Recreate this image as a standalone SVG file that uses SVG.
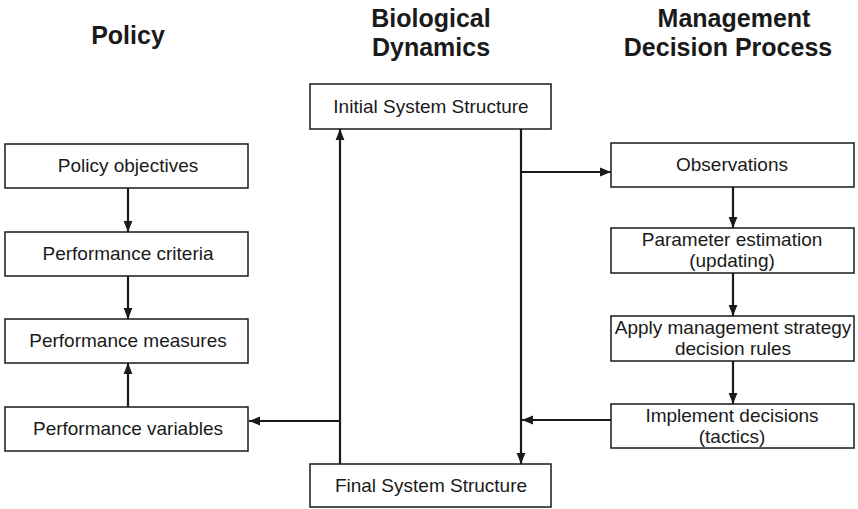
<svg xmlns="http://www.w3.org/2000/svg" width="858" height="509" viewBox="0 0 858 509">
<style>
.box{fill:#fff;stroke:#1a1a1a;stroke-width:1.5}
.t{font-family:"Liberation Sans",Arial,sans-serif;font-size:19px;fill:#1a1a1a;text-anchor:middle}
.h{font-family:"Liberation Sans",Arial,sans-serif;font-size:25px;font-weight:bold;fill:#1a1a1a;text-anchor:middle}
.c{fill:none;stroke:#1a1a1a;stroke-width:2.2}
</style>
<defs>
<marker id="ah" viewBox="0 0 10 10" refX="10" refY="5" markerWidth="11" markerHeight="11" markerUnits="userSpaceOnUse" orient="auto">
<path d="M0,1 L10,5 L0,9 z" fill="#1a1a1a"/>
</marker>
</defs>
<rect width="858" height="509" fill="#fff"/>
<g id="headers">
<text class="h" x="128" y="44">Policy</text>
<text class="h" x="431" y="27">Biological</text>
<text class="h" x="431" y="56">Dynamics</text>
<text class="h" x="734" y="27">Management</text>
<text class="h" x="728" y="56">Decision Process</text>
</g>
<g id="connectors">
<line class="c" x1="128" y1="188" x2="128" y2="232" marker-end="url(#ah)"/>
<line class="c" x1="128" y1="276" x2="128" y2="319" marker-end="url(#ah)"/>
<line class="c" x1="128" y1="407" x2="128" y2="363" marker-end="url(#ah)"/>
<line class="c" x1="340" y1="464" x2="340" y2="129" marker-end="url(#ah)"/>
<line class="c" x1="340" y1="421" x2="249" y2="421" marker-end="url(#ah)"/>
<line class="c" x1="521" y1="129" x2="521" y2="464" marker-end="url(#ah)"/>
<line class="c" x1="521" y1="172" x2="611" y2="172" marker-end="url(#ah)"/>
<line class="c" x1="611" y1="420" x2="522" y2="420" marker-end="url(#ah)"/>
<line class="c" x1="733" y1="187" x2="733" y2="228" marker-end="url(#ah)"/>
<line class="c" x1="733" y1="273" x2="733" y2="316" marker-end="url(#ah)"/>
<line class="c" x1="733" y1="361" x2="733" y2="404" marker-end="url(#ah)"/>
</g>
<g id="initial">
<rect class="box" x="310" y="84" width="241" height="45"/>
<text class="t" x="431" y="113">Initial System Structure</text>
</g>
<g id="final">
<rect class="box" x="310" y="464" width="241" height="43"/>
<text class="t" x="431" y="492">Final System Structure</text>
</g>
<g id="policy-objectives">
<rect class="box" x="5" y="144" width="243" height="44"/>
<text class="t" x="128" y="172">Policy objectives</text>
</g>
<g id="performance-criteria">
<rect class="box" x="5" y="232" width="243" height="44"/>
<text class="t" x="128" y="260">Performance criteria</text>
</g>
<g id="performance-measures">
<rect class="box" x="5" y="319" width="243" height="44"/>
<text class="t" x="128" y="347">Performance measures</text>
</g>
<g id="performance-variables">
<rect class="box" x="5" y="407" width="243" height="44"/>
<text class="t" x="128" y="435">Performance variables</text>
</g>
<g id="observations">
<rect class="box" x="611" y="143" width="243" height="44"/>
<text class="t" x="732" y="171">Observations</text>
</g>
<g id="parameter-estimation">
<rect class="box" x="611" y="228" width="243" height="45"/>
<text class="t" x="732" y="246">Parameter estimation</text>
<text class="t" x="732" y="267">(updating)</text>
</g>
<g id="apply-strategy">
<rect class="box" x="611" y="316" width="243" height="45"/>
<text class="t" x="733" y="334">Apply management strategy</text>
<text class="t" x="733" y="355">decision rules</text>
</g>
<g id="implement-decisions">
<rect class="box" x="611" y="404" width="243" height="44"/>
<text class="t" x="732" y="422">Implement decisions</text>
<text class="t" x="732" y="443">(tactics)</text>
</g>
</svg>
